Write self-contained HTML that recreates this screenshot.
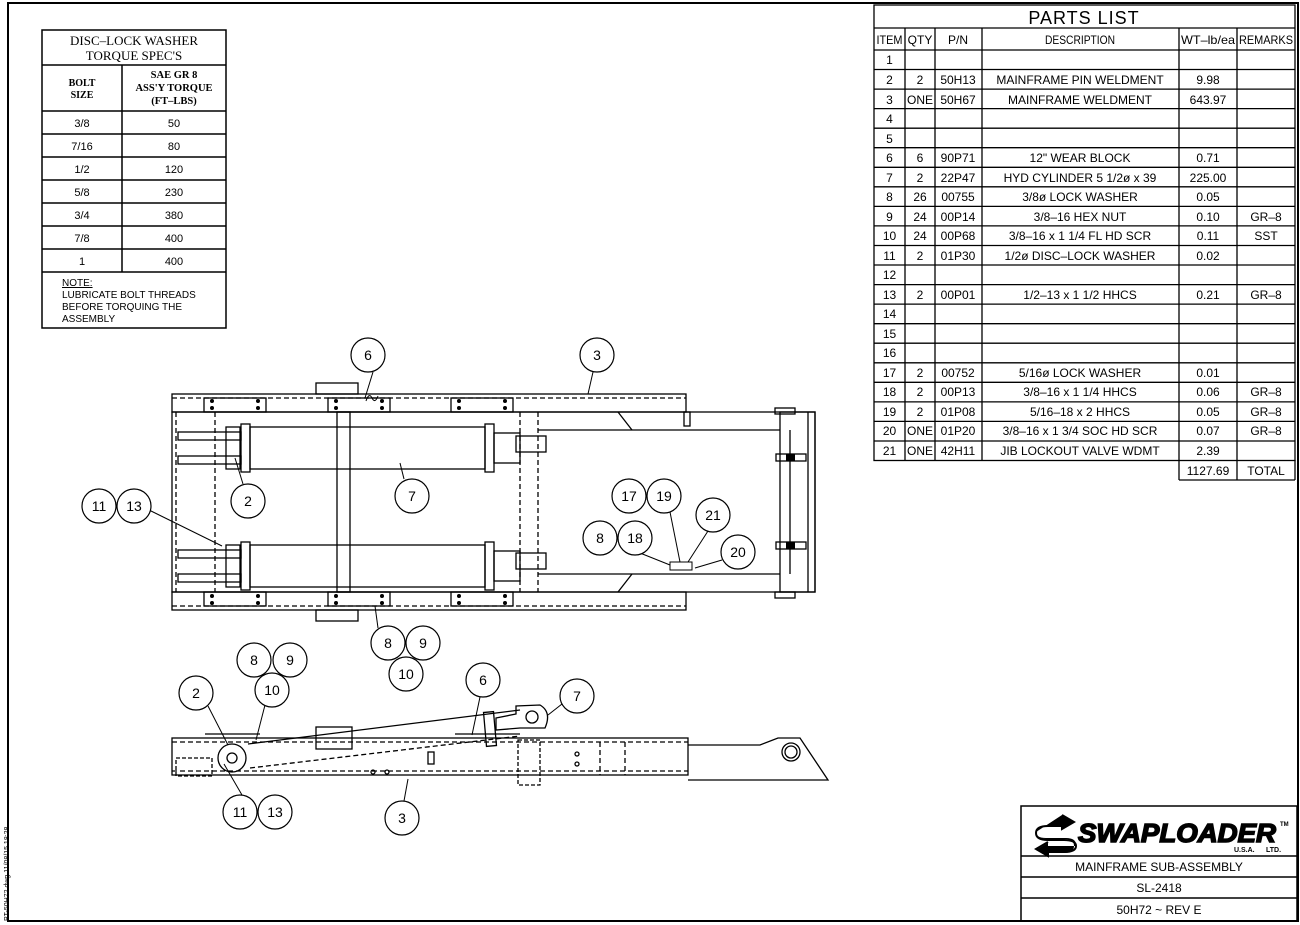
<!DOCTYPE html>
<html><head><meta charset="utf-8"><style>
html,body{margin:0;padding:0;background:#fff}
svg{display:block}
text{font-family:"Liberation Sans",sans-serif;fill:#000}
.s{font-family:"Liberation Serif",serif}
</style></head><body>
<svg width="1300" height="925" viewBox="0 0 1300 925" xmlns="http://www.w3.org/2000/svg">
<g fill="none" stroke="#000">
<!-- border -->
<rect x="8" y="3" width="1290" height="918" stroke-width="2"/>
</g>
<text x="0" y="0" font-size="7" transform="translate(9,921) rotate(-90)">PT-50H72.dwg    11/08/15  18:28</text>

<!-- torque table -->
<g fill="none" stroke="#000" stroke-width="1.5">
<rect x="42" y="30" width="184" height="298"/>
<line x1="42" y1="65" x2="226" y2="65"/>
<line x1="42" y1="111" x2="226" y2="111"/>
<line x1="42" y1="134" x2="226" y2="134"/>
<line x1="42" y1="157" x2="226" y2="157"/>
<line x1="42" y1="180" x2="226" y2="180"/>
<line x1="42" y1="203" x2="226" y2="203"/>
<line x1="42" y1="226" x2="226" y2="226"/>
<line x1="42" y1="249" x2="226" y2="249"/>
<line x1="42" y1="272" x2="226" y2="272"/>
<line x1="122" y1="65" x2="122" y2="272"/>
</g>
<g class="s" text-anchor="middle" font-size="13">
<text class="s" x="134" y="45">DISC–LOCK WASHER</text>
<text class="s" x="134" y="60">TORQUE SPEC'S</text>
<text class="s" x="82" y="86" font-size="10" font-weight="bold">BOLT</text>
<text class="s" x="82" y="98" font-size="10" font-weight="bold">SIZE</text>
<text class="s" x="174" y="78" font-size="10.5" font-weight="bold">SAE GR 8</text>
<text class="s" x="174" y="91" font-size="10.5" font-weight="bold">ASS'Y TORQUE</text>
<text class="s" x="174" y="104" font-size="10.5" font-weight="bold">(FT–LBS)</text>
</g>
<g text-anchor="middle" font-size="11">
<text x="82" y="127">3/8</text><text x="174" y="127">50</text>
<text x="82" y="150">7/16</text><text x="174" y="150">80</text>
<text x="82" y="173">1/2</text><text x="174" y="173">120</text>
<text x="82" y="196">5/8</text><text x="174" y="196">230</text>
<text x="82" y="219">3/4</text><text x="174" y="219">380</text>
<text x="82" y="242">7/8</text><text x="174" y="242">400</text>
<text x="82" y="265">1</text><text x="174" y="265">400</text>
</g>
<g font-size="10">
<text x="62" y="286" text-decoration="underline">NOTE:</text>
<text x="62" y="298">LUBRICATE BOLT THREADS</text>
<text x="62" y="310">BEFORE TORQUING THE</text>
<text x="62" y="322">ASSEMBLY</text>
</g>

<!-- parts list -->
<g fill="none" stroke="#000" stroke-width="1.3">
<rect x="874" y="5" width="421" height="455.5"/>
<line x1="874" y1="28" x2="1295" y2="28"/>
<line x1="874" y1="50" x2="1295" y2="50"/>
<line x1="905" y1="28" x2="905" y2="460.5"/>
<line x1="935" y1="28" x2="935" y2="460.5"/>
<line x1="982" y1="28" x2="982" y2="460.5"/>
<line x1="1179" y1="28" x2="1179" y2="480"/>
<line x1="1237" y1="28" x2="1237" y2="480"/>
<line x1="1295" y1="460" x2="1295" y2="480"/>
<line x1="1179" y1="480" x2="1295" y2="480"/>
<line x1="874" y1="69.5" x2="1295" y2="69.5"/><line x1="874" y1="89.1" x2="1295" y2="89.1"/><line x1="874" y1="108.6" x2="1295" y2="108.6"/><line x1="874" y1="128.2" x2="1295" y2="128.2"/><line x1="874" y1="147.7" x2="1295" y2="147.7"/><line x1="874" y1="167.3" x2="1295" y2="167.3"/><line x1="874" y1="186.8" x2="1295" y2="186.8"/><line x1="874" y1="206.4" x2="1295" y2="206.4"/><line x1="874" y1="225.9" x2="1295" y2="225.9"/><line x1="874" y1="245.5" x2="1295" y2="245.5"/><line x1="874" y1="265" x2="1295" y2="265"/><line x1="874" y1="284.6" x2="1295" y2="284.6"/><line x1="874" y1="304.1" x2="1295" y2="304.1"/><line x1="874" y1="323.7" x2="1295" y2="323.7"/><line x1="874" y1="343.2" x2="1295" y2="343.2"/><line x1="874" y1="362.8" x2="1295" y2="362.8"/><line x1="874" y1="382.3" x2="1295" y2="382.3"/><line x1="874" y1="401.9" x2="1295" y2="401.9"/><line x1="874" y1="421.4" x2="1295" y2="421.4"/><line x1="874" y1="441" x2="1295" y2="441"/>
</g>
<text x="1084" y="24" font-size="18" text-anchor="middle" letter-spacing="1">PARTS LIST</text>
<g font-size="12" text-anchor="middle" transform="translate(0,0)">
<text x="889.5" y="44" textLength="26" lengthAdjust="spacingAndGlyphs">ITEM</text>
<text x="920" y="44">QTY</text><text x="958" y="44">P/N</text>
<text x="1080" y="44" textLength="70" lengthAdjust="spacingAndGlyphs">DESCRIPTION</text>
<text x="1208" y="44" textLength="54" lengthAdjust="spacingAndGlyphs">WT–lb/ea</text>
<text x="1266" y="44" textLength="54" lengthAdjust="spacingAndGlyphs">REMARKS</text>
</g>
<g font-size="12" text-anchor="middle">
<text x="889.5" y="64">1</text>
<text x="889.5" y="84">2</text><text x="920" y="84">2</text><text x="958" y="84">50H13</text><text x="1080" y="84">MAINFRAME PIN WELDMENT</text><text x="1208" y="84">9.98</text>
<text x="889.5" y="104">3</text><text x="920" y="104">ONE</text><text x="958" y="104">50H67</text><text x="1080" y="104">MAINFRAME WELDMENT</text><text x="1208" y="104">643.97</text>
<text x="889.5" y="123">4</text>
<text x="889.5" y="143">5</text>
<text x="889.5" y="162">6</text><text x="920" y="162">6</text><text x="958" y="162">90P71</text><text x="1080" y="162">12" WEAR BLOCK</text><text x="1208" y="162">0.71</text>
<text x="889.5" y="182">7</text><text x="920" y="182">2</text><text x="958" y="182">22P47</text><text x="1080" y="182">HYD CYLINDER 5 1/2ø x 39</text><text x="1208" y="182">225.00</text>
<text x="889.5" y="201">8</text><text x="920" y="201">26</text><text x="958" y="201">00755</text><text x="1080" y="201">3/8ø LOCK WASHER</text><text x="1208" y="201">0.05</text>
<text x="889.5" y="221">9</text><text x="920" y="221">24</text><text x="958" y="221">00P14</text><text x="1080" y="221">3/8–16 HEX NUT</text><text x="1208" y="221">0.10</text><text x="1266" y="221">GR–8</text>
<text x="889.5" y="240">10</text><text x="920" y="240">24</text><text x="958" y="240">00P68</text><text x="1080" y="240">3/8–16 x 1 1/4 FL HD SCR</text><text x="1208" y="240">0.11</text><text x="1266" y="240">SST</text>
<text x="889.5" y="260">11</text><text x="920" y="260">2</text><text x="958" y="260">01P30</text><text x="1080" y="260">1/2ø DISC–LOCK WASHER</text><text x="1208" y="260">0.02</text>
<text x="889.5" y="279">12</text>
<text x="889.5" y="299">13</text><text x="920" y="299">2</text><text x="958" y="299">00P01</text><text x="1080" y="299">1/2–13 x 1 1/2 HHCS</text><text x="1208" y="299">0.21</text><text x="1266" y="299">GR–8</text>
<text x="889.5" y="318">14</text>
<text x="889.5" y="338">15</text>
<text x="889.5" y="357">16</text>
<text x="889.5" y="377">17</text><text x="920" y="377">2</text><text x="958" y="377">00752</text><text x="1080" y="377">5/16ø LOCK WASHER</text><text x="1208" y="377">0.01</text>
<text x="889.5" y="396">18</text><text x="920" y="396">2</text><text x="958" y="396">00P13</text><text x="1080" y="396">3/8–16 x 1 1/4 HHCS</text><text x="1208" y="396">0.06</text><text x="1266" y="396">GR–8</text>
<text x="889.5" y="416">19</text><text x="920" y="416">2</text><text x="958" y="416">01P08</text><text x="1080" y="416">5/16–18 x 2 HHCS</text><text x="1208" y="416">0.05</text><text x="1266" y="416">GR–8</text>
<text x="889.5" y="435">20</text><text x="920" y="435">ONE</text><text x="958" y="435">01P20</text><text x="1080" y="435">3/8–16 x 1 3/4 SOC HD SCR</text><text x="1208" y="435">0.07</text><text x="1266" y="435">GR–8</text>
<text x="889.5" y="455">21</text><text x="920" y="455">ONE</text><text x="958" y="455">42H11</text><text x="1080" y="455">JIB LOCKOUT VALVE WDMT</text><text x="1208" y="455">2.39</text>
<text x="1208" y="475">1127.69</text><text x="1266" y="475">TOTAL</text>
</g>

<!-- title block -->
<g fill="none" stroke="#000" stroke-width="1.5">
<rect x="1021" y="806" width="276" height="115"/>
<line x1="1021" y1="856" x2="1297" y2="856"/>
<line x1="1021" y1="877" x2="1297" y2="877"/>
<line x1="1021" y1="898" x2="1297" y2="898"/>
</g>
<path d="M1062 815 L1074 822 L1062 829 L1062 826 L1046 826 Q1036 826 1036 832 Q1036 838 1046 838 L1066 838 Q1076 838 1076 845 L1076 846 L1048 846 L1048 843 L1036 850 L1048 857 L1048 853 L1064 853 Q1074 853 1074 846 Q1074 839 1064 839 L1046 839 Q1036 839 1036 832 Z" fill="#000"/>
<path d="M1062 815 L1074 822 L1062 829 L1062 826 L1048 826 Q1036 826 1036 833 Q1036 840 1048 840 L1064 840 Q1076 840 1076 846 Q1076 852 1064 852 L1048 852 L1048 856 L1036 849 L1048 842" fill="none" stroke="#000" stroke-width="2"/>
<text x="1078" y="842" font-size="26" font-weight="bold" font-style="italic" textLength="198" lengthAdjust="spacingAndGlyphs" stroke="#000" stroke-width="1.5">SWAPLOADER</text>
<text x="1280" y="826" font-size="6" font-weight="bold">TM</text>
<text x="1234" y="852" font-size="7" font-weight="bold">U.S.A.</text><text x="1266" y="852" font-size="7" font-weight="bold">LTD.</text>
<g font-size="12" text-anchor="middle">
<text x="1159" y="871">MAINFRAME SUB-ASSEMBLY</text>
<text x="1159" y="892">SL-2418</text>
<text x="1159" y="914">50H72 ~ REV E</text>
</g>

<!-- TOP VIEW -->
<g fill="none" stroke="#000" stroke-width="1.3">
<rect x="172" y="394" width="514" height="18"/>
<rect x="172" y="592" width="514" height="18"/>
<rect x="172" y="412" width="643" height="180"/>
<line x1="215" y1="412" x2="215" y2="592" stroke-dasharray="5,3"/>
<line x1="176" y1="412" x2="176" y2="592" stroke-dasharray="5,3"/>
<line x1="172" y1="398" x2="686" y2="398" stroke-dasharray="5,3"/>
<line x1="172" y1="606" x2="686" y2="606" stroke-dasharray="5,3"/>
<rect x="316" y="383" width="42" height="11"/>
<rect x="316" y="610" width="42" height="11"/>
<rect x="204" y="398" width="62" height="14"/><rect x="328" y="398" width="62" height="14"/><rect x="451" y="398" width="62" height="14"/>
<rect x="204" y="592" width="62" height="14"/><rect x="328" y="592" width="62" height="14"/><rect x="451" y="592" width="62" height="14"/>
<!-- cylinders -->
<rect x="250" y="427" width="235" height="42"/>
<rect x="250" y="545" width="235" height="42"/>
<rect x="241" y="424" width="9" height="48"/><rect x="485" y="424" width="9" height="48"/>
<rect x="241" y="542" width="9" height="48"/><rect x="485" y="542" width="9" height="48"/>
<rect x="178" y="432" width="63" height="8"/><rect x="178" y="456" width="63" height="8"/>
<rect x="178" y="550" width="63" height="8"/><rect x="178" y="574" width="63" height="8"/>
<rect x="226" y="427" width="14" height="42"/><rect x="226" y="545" width="14" height="42"/>
<rect x="494" y="433" width="26" height="30"/><rect x="494" y="551" width="26" height="30"/>
<rect x="516" y="436" width="30" height="16"/><rect x="516" y="553" width="30" height="16"/>
<rect x="337" y="412" width="13" height="180"/>
<line x1="520" y1="412" x2="520" y2="592" stroke-dasharray="5,3"/>
<line x1="538" y1="412" x2="538" y2="592" stroke-dasharray="5,3"/>
<line x1="538" y1="430" x2="780" y2="430"/><line x1="538" y1="574" x2="780" y2="574"/>
<line x1="618" y1="412" x2="632" y2="430"/><line x1="618" y1="592" x2="632" y2="574"/>
<rect x="780" y="412" width="35" height="180"/>
<line x1="808" y1="412" x2="808" y2="592"/>
<line x1="790" y1="430" x2="790" y2="574"/>
<rect x="775" y="408" width="20" height="6"/><rect x="775" y="592" width="20" height="6"/>
<rect x="776" y="454" width="30" height="7"/><rect x="776" y="542" width="30" height="7"/>
<rect x="684" y="412" width="6" height="14"/>
</g>
<rect x="786" y="454" width="9" height="7" fill="#000"/><rect x="786" y="542" width="9" height="7" fill="#000"/>
<rect x="670" y="562" width="22" height="8" fill="none" stroke="#000"/>
<g fill="#000">
<circle cx="212" cy="401" r="2"/><circle cx="212" cy="408" r="2"/><circle cx="258" cy="401" r="2"/><circle cx="258" cy="408" r="2"/>
<circle cx="336" cy="401" r="2"/><circle cx="336" cy="408" r="2"/><circle cx="382" cy="401" r="2"/><circle cx="382" cy="408" r="2"/>
<circle cx="459" cy="401" r="2"/><circle cx="459" cy="408" r="2"/><circle cx="505" cy="401" r="2"/><circle cx="505" cy="408" r="2"/>
<circle cx="212" cy="596" r="2"/><circle cx="212" cy="603" r="2"/><circle cx="258" cy="596" r="2"/><circle cx="258" cy="603" r="2"/>
<circle cx="336" cy="596" r="2"/><circle cx="336" cy="603" r="2"/><circle cx="382" cy="596" r="2"/><circle cx="382" cy="603" r="2"/>
<circle cx="459" cy="596" r="2"/><circle cx="459" cy="603" r="2"/><circle cx="505" cy="596" r="2"/><circle cx="505" cy="603" r="2"/>
</g>

<!-- SIDE VIEW -->
<g fill="none" stroke="#000" stroke-width="1.3">
<rect x="172" y="738" width="516" height="37"/>
<line x1="172" y1="742" x2="688" y2="742" stroke-dasharray="5,3"/>
<line x1="172" y1="771" x2="688" y2="771" stroke-dasharray="5,3"/>
<path d="M688 745 L760 745 L778 738 L800 738 L828 780 L688 780"/>
<circle cx="791" cy="752" r="9"/><circle cx="791" cy="752" r="6"/>
<rect x="176" y="758" width="36" height="18" stroke-dasharray="4,2"/>
<circle cx="232" cy="758" r="14"/><circle cx="232" cy="758" r="5"/>
<line x1="248" y1="744" x2="520" y2="710"/>
<line x1="250" y1="768" x2="520" y2="736" stroke-dasharray="5,3"/>
<rect x="316" y="727" width="36" height="22"/>
<rect x="485" y="712" width="10" height="34" transform="rotate(-5 490 729)"/>
<path d="M496 718 L516 714 L516 706 L540 705 Q552 712 545 728 L520 728 L496 730 Z"/>
<circle cx="532" cy="717" r="6"/>
<rect x="518" y="740" width="22" height="45" stroke-dasharray="4,2"/>
<line x1="600" y1="742" x2="600" y2="775" stroke-dasharray="5,3"/>
<line x1="625" y1="742" x2="625" y2="775" stroke-dasharray="5,3"/>
<circle cx="373" cy="772" r="2"/><circle cx="387" cy="772" r="2"/>
<circle cx="577" cy="754" r="2"/><circle cx="577" cy="764" r="2"/>
<rect x="428" y="752" width="6" height="12"/>
<line x1="205" y1="734" x2="260" y2="734"/><line x1="455" y1="734" x2="520" y2="734"/>
</g>

<!-- leaders -->
<g fill="none" stroke="#000" stroke-width="1">
<line x1="373" y1="372" x2="365" y2="398"/>
<line x1="593" y1="372" x2="588" y2="394"/>
<line x1="243" y1="484" x2="235" y2="458"/>
<line x1="404" y1="479" x2="400" y2="463"/>
<line x1="149" y1="510" x2="222" y2="546"/>
<line x1="378" y1="628" x2="375" y2="606"/>
<line x1="640" y1="553" x2="670" y2="565"/>
<line x1="670" y1="512" x2="680" y2="562"/>
<line x1="708" y1="531" x2="688" y2="562"/>
<line x1="722" y1="560" x2="695" y2="568"/>
<line x1="208" y1="706" x2="228" y2="745"/>
<line x1="265" y1="705" x2="256" y2="740"/>
<line x1="480" y1="697" x2="472" y2="735"/>
<line x1="562" y1="704" x2="548" y2="715"/>
<line x1="242" y1="795" x2="224" y2="764"/>
<line x1="404" y1="801" x2="408" y2="779"/>
</g>
<path d="M366 401 Q369 392 372 398 Q375 404 378 396" fill="none" stroke="#000"/>

<!-- balloons -->
<g fill="#fff" stroke="#000" stroke-width="1.2">
<circle cx="368" cy="355" r="17"/><circle cx="597" cy="355" r="17"/>
<circle cx="248" cy="501" r="17"/><circle cx="412" cy="496" r="17"/>
<circle cx="99" cy="506" r="17"/><circle cx="134" cy="506" r="17"/>
<circle cx="629" cy="496" r="17"/><circle cx="664" cy="496" r="17"/>
<circle cx="600" cy="538" r="17"/><circle cx="635" cy="538" r="17"/>
<circle cx="713" cy="515" r="17"/><circle cx="738" cy="552" r="17"/>
<circle cx="388" cy="643" r="17"/><circle cx="423" cy="643" r="17"/><circle cx="406" cy="674" r="17"/>
<circle cx="254" cy="660" r="17"/><circle cx="290" cy="660" r="17"/><circle cx="272" cy="690" r="17"/>
<circle cx="196" cy="693" r="17"/><circle cx="483" cy="680" r="17"/><circle cx="577" cy="696" r="17"/>
<circle cx="240" cy="812" r="17"/><circle cx="275" cy="812" r="17"/><circle cx="402" cy="818" r="17"/>
</g>
<g font-size="14" text-anchor="middle">
<text x="368" y="360">6</text><text x="597" y="360">3</text>
<text x="248" y="506">2</text><text x="412" y="501">7</text>
<text x="99" y="511">11</text><text x="134" y="511">13</text>
<text x="629" y="501">17</text><text x="664" y="501">19</text>
<text x="600" y="543">8</text><text x="635" y="543">18</text>
<text x="713" y="520">21</text><text x="738" y="557">20</text>
<text x="388" y="648">8</text><text x="423" y="648">9</text><text x="406" y="679">10</text>
<text x="254" y="665">8</text><text x="290" y="665">9</text><text x="272" y="695">10</text>
<text x="196" y="698">2</text><text x="483" y="685">6</text><text x="577" y="701">7</text>
<text x="240" y="817">11</text><text x="275" y="817">13</text><text x="402" y="823">3</text>
</g>
</svg>
</body></html>
